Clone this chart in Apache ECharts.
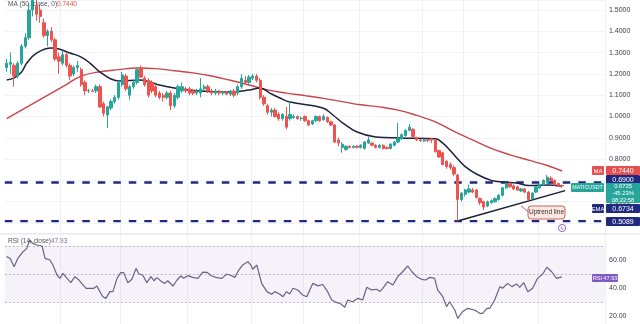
<!DOCTYPE html>
<html><head><meta charset="utf-8">
<script src="https://cdn.jsdelivr.net/npm/echarts@6/dist/echarts.min.js"></script>
<style>html,body{margin:0;padding:0;background:#fff}#c{width:640px;height:324px}</style>
</head><body><div id="c"></div>
<script>
// ---- data (price chart, MATIC/USDT daily) ----
// each candle: [open, close, low, high]
const candles = [
[1.23,1.25,1.21,1.27],[1.245,1.255,1.20,1.30],[1.24,1.19,1.14,1.25],[1.19,1.25,1.18,1.26],[1.25,1.33,1.24,1.34],
[1.33,1.37,1.32,1.39],[1.37,1.50,1.36,1.53],[1.50,1.55,1.47,1.58],[1.52,1.48,1.45,1.56],[1.50,1.47,1.44,1.53],
[1.44,1.38,1.37,1.46],[1.38,1.40,1.33,1.41],[1.40,1.36,1.35,1.42],[1.36,1.27,1.26,1.37],[1.28,1.26,1.20,1.30],
[1.25,1.29,1.24,1.31],[1.29,1.24,1.23,1.30],[1.24,1.19,1.17,1.25],[1.20,1.23,1.19,1.24],[1.23,1.24,1.21,1.26],
[1.22,1.15,1.14,1.23],[1.16,1.12,1.10,1.17],[1.12,1.121,1.11,1.13],[1.12,1.118,1.115,1.13],[1.12,1.14,1.11,1.15],
[1.14,1.045,1.04,1.15],[1.06,1.015,1.00,1.07],[1.007,1.045,0.945,1.05],[1.04,1.07,1.03,1.08],[1.07,1.09,1.06,1.10],
[1.09,1.16,1.08,1.17],[1.15,1.195,1.14,1.21],[1.19,1.13,1.12,1.20],[1.10,1.14,1.08,1.15],[1.14,1.16,1.13,1.17],
[1.16,1.22,1.15,1.23],[1.23,1.185,1.18,1.24],[1.18,1.15,1.14,1.19],[1.17,1.10,1.09,1.18],[1.16,1.12,1.11,1.17],
[1.14,1.10,1.09,1.15],[1.11,1.09,1.08,1.12],[1.10,1.09,1.07,1.11],[1.09,1.11,1.08,1.12],[1.11,1.05,1.03,1.12],
[1.05,1.10,1.04,1.11],[1.09,1.14,1.08,1.15],[1.12,1.14,1.11,1.16],[1.13,1.12,1.11,1.14],[1.13,1.11,1.10,1.14],
[1.12,1.11,1.10,1.13],[1.11,1.12,1.10,1.13],[1.11,1.13,1.09,1.18],[1.13,1.14,1.12,1.15],[1.14,1.12,1.11,1.15],
[1.12,1.11,1.10,1.13],[1.11,1.12,1.10,1.13],[1.12,1.11,1.10,1.125],[1.11,1.115,1.10,1.12],[1.115,1.105,1.10,1.12],
[1.105,1.12,1.095,1.125],[1.12,1.10,1.09,1.13],[1.11,1.14,1.10,1.15],[1.14,1.18,1.13,1.20],[1.17,1.16,1.15,1.19],
[1.16,1.185,1.15,1.195],[1.18,1.19,1.17,1.20],[1.19,1.17,1.16,1.20],[1.17,1.09,1.08,1.18],[1.09,1.06,1.05,1.10],
[1.05,1.02,1.01,1.06],[1.02,1.03,1.00,1.04],[1.03,1.00,0.995,1.04],[1.01,0.99,0.98,1.02],[0.99,1.01,0.98,1.015],
[1.00,0.95,0.94,1.045],[0.99,1.01,0.98,1.07],[0.995,1.00,0.99,1.01],[1.00,0.99,0.985,1.005],[0.99,0.992,0.98,1.00],
[1.00,0.98,0.975,1.005],[0.98,0.96,0.955,0.985],[0.965,0.98,0.96,0.985],[0.98,1.00,0.975,1.005],[1.00,0.98,0.975,1.005],
[0.985,1.00,0.98,1.01],[0.995,0.975,0.97,1.00],[0.975,0.96,0.955,0.98],[0.96,0.88,0.875,0.965],[0.89,0.875,0.86,0.90],
[0.855,0.87,0.83,0.88],[0.845,0.86,0.84,0.865],[0.86,0.855,0.85,0.865],[0.855,0.86,0.85,0.865],[0.86,0.855,0.85,0.865],
[0.855,0.865,0.85,0.87],[0.85,0.88,0.845,0.885],[0.875,0.89,0.87,0.905],[0.875,0.865,0.86,0.88],[0.865,0.855,0.85,0.87],
[0.855,0.865,0.85,0.87],[0.865,0.85,0.845,0.87],[0.855,0.85,0.845,0.86],[0.85,0.87,0.845,0.875],[0.865,0.88,0.86,0.885],
[0.88,0.895,0.875,0.97],[0.895,0.915,0.89,0.92],[0.91,0.935,0.905,0.94],[0.935,0.95,0.93,0.965],[0.94,0.905,0.90,0.945],
[0.90,0.89,0.885,0.905],[0.89,0.887,0.88,0.895],[0.885,0.89,0.88,0.895],[0.89,0.888,0.88,0.895],[0.895,0.89,0.875,0.90],
[0.89,0.835,0.83,0.895],[0.84,0.81,0.805,0.845],[0.83,0.775,0.77,0.835],[0.79,0.765,0.755,0.795],[0.775,0.76,0.75,0.785],
[0.76,0.73,0.72,0.77],[0.725,0.61,0.5089,0.73],[0.61,0.64,0.60,0.645],[0.635,0.655,0.625,0.66],[0.645,0.66,0.64,0.68],
[0.655,0.645,0.64,0.665],[0.655,0.62,0.615,0.66],[0.615,0.595,0.585,0.62],[0.60,0.575,0.56,0.605],[0.58,0.60,0.575,0.605],
[0.595,0.605,0.59,0.61],[0.60,0.615,0.595,0.62],[0.61,0.63,0.605,0.635],[0.63,0.665,0.625,0.67],[0.665,0.685,0.66,0.69],
[0.685,0.67,0.665,0.695],[0.675,0.66,0.655,0.68],[0.67,0.655,0.65,0.675],[0.65,0.66,0.645,0.665],[0.66,0.645,0.64,0.665],
[0.645,0.61,0.605,0.65],[0.615,0.64,0.61,0.645],[0.645,0.67,0.64,0.675],[0.665,0.68,0.66,0.685],[0.68,0.70,0.675,0.705],
[0.69,0.715,0.685,0.725],[0.71,0.70,0.695,0.72],[0.70,0.68,0.675,0.705],[0.685,0.675,0.67,0.69],[0.676,0.6735,0.665,0.68]
];
// MA(50): [candle index, value]
const ma50 = [[0,0.99],[4,1.03],[8,1.07],[12,1.11],[16,1.15],[20,1.19],[25,1.21],[30,1.22],[35,1.228],[40,1.225],
[45,1.215],[50,1.205],[55,1.19],[60,1.17],[65,1.148],[70,1.125],[75,1.11],[80,1.098],[85,1.085],[90,1.07],[95,1.055],
[100,1.045],[105,1.03],[110,1.005],[115,0.975],[120,0.93],[125,0.89],[130,0.85],[135,0.82],[140,0.795],[145,0.77],[149,0.744]];
// EMA(20)
const ema20 = [[0,1.171],[2,1.181],[4,1.209],[5.4,1.251],[8,1.298],[12,1.322],[14,1.317],[17,1.298],[20,1.279],[22.3,1.251],
[25,1.209],[28,1.176],[30.4,1.167],[35.7,1.171],[38.4,1.162],[41,1.148],[45,1.134],[49,1.124],[60,1.115],[65,1.124],
[68,1.134],[70.6,1.11],[73.3,1.087],[76,1.068],[84.8,1.04],[87.5,1.007],[90.2,0.969],[94,0.927],[99,0.904],[105.4,0.899],
[115,0.895],[117,0.875],[119,0.84],[121,0.80],[123,0.765],[126,0.73],[130,0.70],[133,0.692],[136.8,0.688],[140,0.676],
[145.6,0.678],[148.3,0.674],[149,0.6734]];
// RSI(14)
const rsi = [[0,62.4],[0.9,61.2],[2,55.2],[3,61.2],[4.4,65.9],[5.4,68.3],[6.2,74.3],[7,71.9],[8.1,70.7],[9.5,70],[10.3,61.2],
[11.6,60],[12.4,56.4],[13.5,49.3],[14.3,46.9],[15.1,50.5],[16.2,46.9],[17.2,43.8],[18.3,48.1],[19.4,45.7],[20.5,42.1],
[21.3,39.8],[22.3,39.8],[23.4,39.8],[24.2,41.4],[25,37.4],[25.8,33.8],[26.6,32.6],[27.7,37.4],[28.5,37.4],[29.6,46.9],
[30.6,51],[31.4,51],[32.5,43.8],[33.6,46.2],[34.7,54],[35.5,50],[36.5,49.3],[37.6,43.8],[38.7,48.1],[39.5,45.2],[40.3,47.4],
[41.6,44.5],[42.4,43.3],[43.2,45.2],[44.6,41.4],[45.7,45.7],[46.7,48.6],[47.5,46.9],[48.6,48.8],[49.9,47.6],[51.3,46.9],
[52.6,51.4],[53.7,51.2],[55,48.6],[56.4,47.4],[57.7,46.9],[59,49.8],[59.9,49.3],[61.2,47.6],[62.3,52.9],[63.3,56.4],
[64.7,58.8],[65.5,56.4],[66,53.4],[67.1,56.4],[68.4,43.3],[69.8,37.4],[71.1,35.5],[71.9,37.4],[73.3,35.5],[74.1,33.8],
[75.1,37.4],[75.9,35.7],[76.8,39.8],[78.1,38.6],[79.4,35],[80.5,33.8],[82.1,43.3],[83.5,41.5],[84.8,42.5],[86.1,37.4],
[87.2,31.4],[88.6,29.5],[89.4,29],[90.7,26.2],[91.5,31.4],[92.8,30.2],[94.2,32.6],[95.5,31.4],[96.6,40.5],[97.9,38.6],
[99.3,39.1],[100.1,37.4],[100.9,39.8],[102.2,44.5],[103.6,42.1],[104.9,48.1],[106.2,51.6],[107.6,55.7],[108.7,51.6],
[110,48.1],[111.3,46.2],[112.4,45.7],[113.5,47.6],[114.8,46.9],[115.6,38.6],[117,33.8],[118,26.7],[118.8,30.2],[120.2,24.3],
[121,18.3],[122.3,23.1],[123.7,25.5],[125.5,24.3],[126.9,21.9],[127.7,21.9],[128.8,25.5],[129.6,25.5],[130.9,31.4],
[132.3,41],[133,39.8],[134.4,43.3],[135.5,41],[136.8,42.9],[137.6,40.5],[138.7,43.8],[139.8,37.4],[141.1,39.8],[142.4,46.9],
[143.8,50],[144.9,54.8],[146.2,51.6],[147.5,46.9],[148.9,47.93]];
const levels = [0.69, 0.5089];            // horizontal support / resistance
const uptrend = [[121,0.5089],[149.8,0.652]];
const rsiLevels = [70, 50, 30];
const priceTicks = {min:0.453, max:1.547, step:0.1};
const rsiTicks = {min:14.29, max:78.57, step:20};
const slots = 161;
const vgrid = [15,31,49,66,80,95,112,123,143];

const cats = Array.from({length:slots},(_,i)=>String(i));
const FONT = '"Liberation Sans", Arial, sans-serif';
const chart = echarts.init(document.getElementById('c'), null, {renderer:'canvas'});

const L = 4.8, R = 35;
function lvlSeries(v){
  return {type:'line', xAxisIndex:1, yAxisIndex:0, data:[[-0.5,v],[slots-0.5,v]], symbol:'none',
    lineStyle:{color:'#1f2a7e', width:2.4, type:[7.5,8]}, z:3, silent:true};
}
function box(x,y,w,h,fill,lines,fs,color){
  const out=[{type:'rect',shape:{x:x,y:y,width:w,height:h,r:1},style:{fill:fill},z:100}];
  const lh = h/lines.length;
  lines.forEach((t,k)=>out.push({type:'text',x:x+w/2,y:y+lh*k+lh/2+0.5,z:101,
    style:{text:t,fill:color||'#fff',font:fs+'px '+FONT,textAlign:'center',textVerticalAlign:'middle',align:'center',verticalAlign:'middle'}}));
  return out;
}

const option = {
  animation:false,
  backgroundColor:'#fff',
  grid:[{left:L,right:R,top:0,height:233},{left:L,right:R,top:234,height:90}],
  xAxis:[
    {type:'category',gridIndex:0,data:cats,boundaryGap:true,axisLine:{show:false},axisTick:{show:false},axisLabel:{show:false},
     splitLine:{show:true,interval:(i)=>vgrid.indexOf(i)>=0,lineStyle:{color:'#f0f1f5',width:1}}},
    {type:'value',gridIndex:0,min:-0.5,max:slots-0.5,show:false},
    {type:'category',gridIndex:1,data:cats,boundaryGap:true,axisLine:{show:false},axisTick:{show:false},axisLabel:{show:false},
     splitLine:{show:true,interval:(i)=>vgrid.indexOf(i)>=0,lineStyle:{color:'#f0f1f5',width:1}}},
    {type:'value',gridIndex:1,min:-0.5,max:slots-0.5,show:false}
  ],
  yAxis:[
    {type:'value',gridIndex:0,position:'right',min:priceTicks.min,max:priceTicks.max,splitNumber:11,
     minInterval:priceTicks.step,maxInterval:priceTicks.step,scale:true,
     axisLine:{show:false},axisTick:{show:false},
     axisLabel:{showMinLabel:false,showMaxLabel:false,fontSize:7,color:'#3a3e4a',margin:4,fontFamily:FONT,formatter:v=>v.toFixed(4)},
     splitLine:{show:true,lineStyle:{color:'#f2f3f6'}}},
    {type:'value',gridIndex:1,position:'right',min:rsiTicks.min,max:rsiTicks.max,splitNumber:3,
     minInterval:rsiTicks.step,maxInterval:rsiTicks.step,scale:true,
     axisLine:{show:false},axisTick:{show:false},
     axisLabel:{showMinLabel:false,showMaxLabel:false,fontSize:7,color:'#3a3e4a',margin:4,fontFamily:FONT,formatter:v=>v.toFixed(2)},
     splitLine:{show:false}}
  ],
  series:[
    lvlSeries(levels[0]), lvlSeries(levels[1]),
    {type:'line',xAxisIndex:1,yAxisIndex:0,data:ma50,symbol:'none',smooth:0.4,lineStyle:{color:'#c8454a',width:1.4},z:4},
    {type:'line',xAxisIndex:1,yAxisIndex:0,data:ema20,symbol:'none',smooth:0.4,lineStyle:{color:'#1c2240',width:1.5},z:5},
    {type:'line',xAxisIndex:1,yAxisIndex:0,data:uptrend,symbol:'none',lineStyle:{color:'#1a1e30',width:1.5},z:6},
    {type:'candlestick',xAxisIndex:0,yAxisIndex:0,data:candles,barWidth:2.8,z:7,
     itemStyle:{color:'#26a69a',color0:'#ef5350',borderColor:'#26a69a',borderColor0:'#ef5350',borderWidth:1}},
    {type:'line',xAxisIndex:3,yAxisIndex:1,data:rsi,symbol:'none',lineStyle:{color:'#6c6184',width:1.2},z:5,
     markArea:{silent:true,itemStyle:{color:'rgba(126,87,194,0.08)'},data:[[{yAxis:rsiLevels[2]},{yAxis:rsiLevels[0]}]]},
     markLine:{silent:true,symbol:'none',label:{show:false},lineStyle:{color:'#b8b6c4',type:[2,2],width:1},
       data:rsiLevels.map(v=>({yAxis:v}))}}
  ],
  graphic:[]
};
chart.setOption(option);

// annotations
const g = [];
g.push({type:'line',shape:{x1:0,y1:234,x2:640,y2:234},style:{stroke:'#e0e3eb',lineWidth:1},z:50});
g.push({type:'line',shape:{x1:605.5,y1:0,x2:605.5,y2:324},style:{stroke:'#f0f1f4',lineWidth:1},z:1});
g.push({type:'text',x:8,y:4,z:60,style:{text:'MA (50, close, 0)',fill:'#50535e',font:'6.5px '+FONT,textVerticalAlign:'middle',verticalAlign:'middle'}});
g.push({type:'text',x:57,y:4,z:60,style:{text:'0.7440',fill:'#e0524f',font:'6.5px '+FONT,textVerticalAlign:'middle',verticalAlign:'middle'}});
g.push({type:'text',x:8,y:241,z:60,style:{text:'RSI (14, close)',fill:'#50535e',font:'6.5px '+FONT,textVerticalAlign:'middle',verticalAlign:'middle'}});
g.push({type:'text',x:51,y:241,z:60,style:{text:'47.93',fill:'#7e6fa0',font:'6.5px '+FONT,textVerticalAlign:'middle',verticalAlign:'middle'}});
// price scale labels
g.push(...box(592,166,12,9,'#e5504e',['MA'],6));
g.push(...box(606,166,34,9,'#e5504e',['0.7440'],7));
g.push(...box(606,175,34,9,'#1f2a7e',['0.6900'],7));
g.push(...box(571,183,33,9,'#26a69a',['MATICUSDT'],5.3));
g.push(...box(606,183,34,20,'#26a69a',['0.6735','-45.23%','08:22:58'],5.8));
g.push(...box(592,204,12,9,'#1f2a7e',['EMA'],5.8));
g.push(...box(606,204,34,9,'#1f2a7e',['0.6734'],7));
g.push(...box(606,217,34,9,'#1f2a7e',['0.5089'],7));
g.push(...box(592,274,11,8,'#7e57c2',['RSI'],5.8));
g.push(...box(603,274,15,8,'#7e57c2',['47.93'],5.8));
// Uptrend line callout
g.push({type:'polyline',shape:{points:[[521,206],[530,213]]},style:{stroke:'#c0675c',lineWidth:1,fill:null},z:90});
g.push({type:'rect',shape:{x:528,y:206,width:37,height:13,r:3},style:{fill:'#fbe6e2',stroke:'#c0675c',lineWidth:1},z:90});
g.push({type:'text',x:546.5,y:212.5,z:91,style:{text:'Uptrend line',fill:'#333',font:'6.5px '+FONT,textAlign:'center',textVerticalAlign:'middle',align:'center',verticalAlign:'middle'}});
// event icon
g.push({type:'circle',shape:{cx:562,cy:228,r:3.6},style:{fill:'#fff',stroke:'#8e6cc8',lineWidth:1},z:90});
g.push({type:'text',x:562,y:228,z:91,style:{text:'ϟ',fill:'#8e6cc8',font:'6px '+FONT,textAlign:'center',textVerticalAlign:'middle',align:'center',verticalAlign:'middle'}});
chart.setOption({graphic:g});
</script>
</body></html>
